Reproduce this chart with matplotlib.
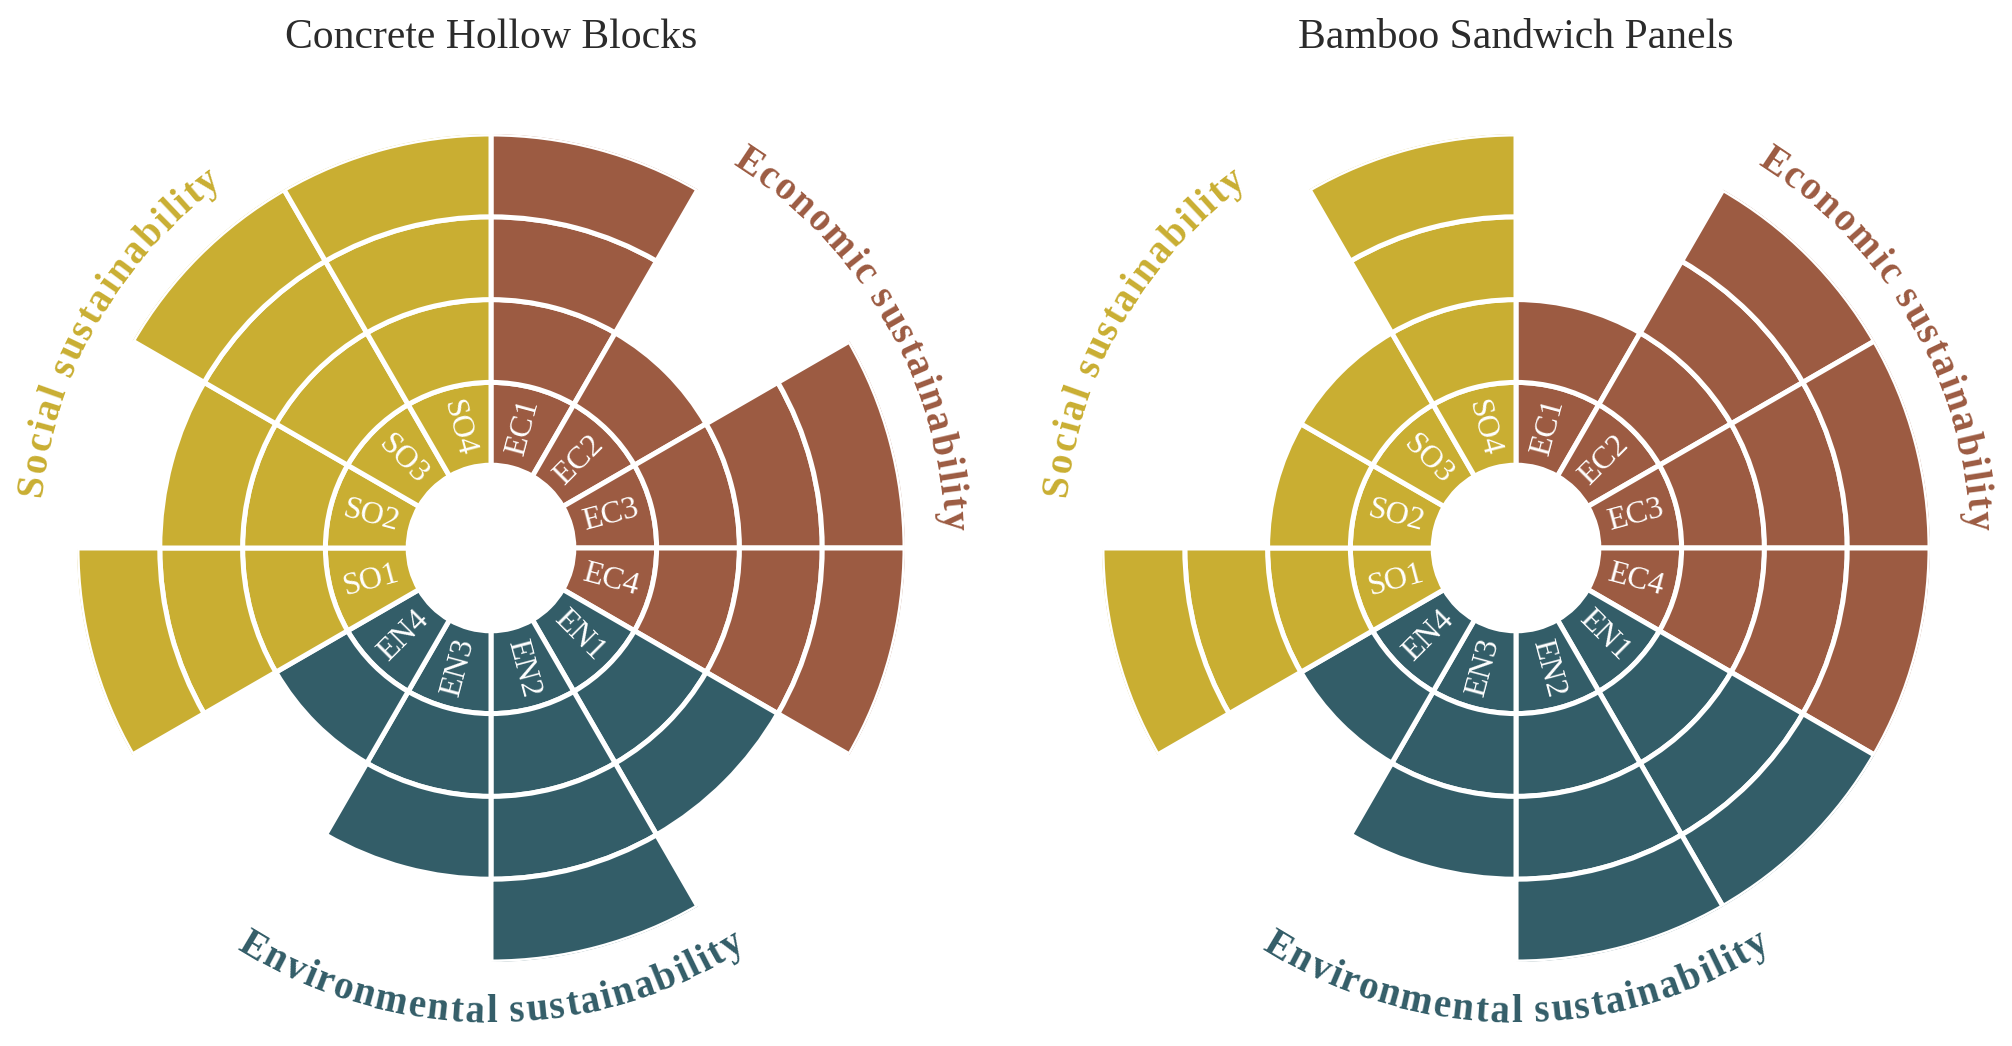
import matplotlib
matplotlib.use('Agg')
import numpy as np
import matplotlib.pyplot as plt
from matplotlib.font_manager import FontProperties

# Indicators, clockwise from the top
categories = ['EC1', 'EC2', 'EC3', 'EC4',
              'EN1', 'EN2', 'EN3', 'EN4',
              'SO1', 'SO2', 'SO3', 'SO4']
groups = ['Economic sustainability', 'Environmental sustainability', 'Social sustainability']
group_colors = ['#9c5b42', '#335d68', '#c9ae32']

# Scores (number of stacked rings) for each material
concrete = [4, 2, 4, 4, 3, 4, 3, 2, 4, 3, 4, 4]
bamboo = [2, 4, 4, 4, 4, 4, 3, 2, 4, 2, 2, 4]
titles = ['Concrete Hollow Blocks', 'Bamboo Sandwich Panels']

W, H = 2012, 1046
fig = plt.figure(figsize=(W / 100, H / 100), dpi=100)
serif = ['Liberation Serif', 'DejaVu Serif']


def curved_text(ax, text, center_deg, r, color, size, top=True, tracking=2.0):
    # one glyph at a time along a circle around the polar centre
    renderer = fig.canvas.get_renderer()
    fp = FontProperties(family=serif, weight='bold', size=size)

    def width(s):
        w, _, _ = renderer.get_text_width_height_descent(s + 'l', fp, ismath=False)
        w0, _, _ = renderer.get_text_width_height_descent('l', fp, ismath=False)
        return w - w0 + tracking * len(s)

    p0 = ax.transData.transform((0, 0))
    p1 = ax.transData.transform((0, 1))
    r_px = r * np.hypot(*(p1 - p0))
    pref = [width(text[:i]) for i in range(len(text) + 1)]
    total = pref[-1] - tracking
    for i, ch in enumerate(text):
        c = (pref[i] + pref[i + 1] - tracking) / 2 - total / 2
        d = np.degrees(c / r_px)
        if top:
            th = center_deg + d
            rot = -th
        else:
            th = center_deg - d
            rot = 180 - th
        ax.text(np.radians(th), r, ch, rotation=rot, rotation_mode='anchor',
                ha='center', va='baseline', color=color, fontproperties=fp,
                clip_on=False)


centers_x = [491, 1516]
radius_px = 414
cy = 548

for k, (vals, title) in enumerate(zip([concrete, bamboo], titles)):
    cx = centers_x[k]
    ax = fig.add_axes([(cx - radius_px) / W, (H - cy - radius_px) / H,
                       2 * radius_px / W, 2 * radius_px / H], projection='polar')
    ax.set_theta_zero_location('N')
    ax.set_theta_direction(-1)
    ax.set_ylim(0, 5)
    ax.axis('off')

    theta = np.radians(15 + 30 * np.arange(len(categories)))
    colors = [group_colors[i // 4] for i in range(len(categories))]
    for i, v in enumerate(vals):
        for lvl in range(v):
            ax.bar(theta[i], 1, width=np.radians(30), bottom=1 + lvl,
                   color=colors[i], edgecolor='white', linewidth=3.6)

    for i, lab in enumerate(categories):
        deg = 15 + 30 * i
        rot = 90 - deg if deg < 180 else 270 - deg
        ax.text(theta[i], 1.5, lab, rotation=rot, rotation_mode='anchor',
                ha='center', va='center', color='white', fontsize=23,
                family=serif)

    curved_text(ax, groups[0], 60, 5.47, group_colors[0], 28, top=True)
    curved_text(ax, groups[1], 180, 5.73, group_colors[1], 28, top=False)
    curved_text(ax, groups[2], 300, 5.47, group_colors[2], 28, top=True)

    fig.text(cx / W, 1 - 38 / H, title, ha='center', va='center',
             fontsize=30, color='#2b2b2b', family=serif)

fig.savefig('out.png', dpi=100, facecolor='white')
